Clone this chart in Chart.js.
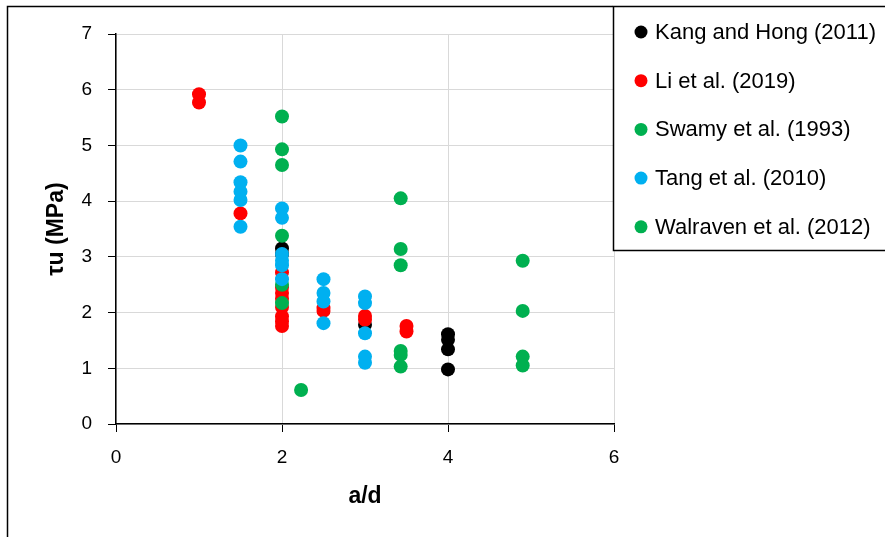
<!DOCTYPE html>
<html>
<head>
<meta charset="utf-8">
<script src="https://cdn.jsdelivr.net/npm/chart.js@4"></script>
<style>
  html, body { margin: 0; padding: 0; background: #fff; }
  #wrap { width: 885px; height: 537px; }
</style>
</head>
<body>
<div id="wrap"><canvas id="chart" width="885" height="537"></canvas></div>
<script>
// Series data (x = a/d, y = tau_u in MPa)
const seriesNames = ['Kang and Hong (2011)', 'Li et al. (2019)', 'Swamy et al. (1993)', 'Tang et al. (2010)', 'Walraven et al. (2012)'];
const seriesColors = ['#000000', '#FF0000', '#00B050', '#00B0F0', '#00B050'];

const kangX = [2, 2, 3, 4, 4, 4, 4];
const kangY = [3.15, 3.05, 1.78, 1.61, 1.51, 1.34, 0.98];

const liX = [1, 1, 1.5, 2, 2, 2, 2, 2, 2, 2, 2, 2.5, 2.5, 3, 3, 3.5, 3.5];
const liY = [5.92, 5.77, 3.78, 2.72, 2.45, 2.35, 2.25, 2.1, 1.93, 1.84, 1.76, 2.08, 2.03, 1.94, 1.87, 1.76, 1.66];

const swamyX = [2, 2, 2, 2, 2, 2, 2.23];
const swamyY = [5.52, 4.93, 4.65, 3.38, 2.5, 2.17, 0.61];

const tangX = [1.5, 1.5, 1.5, 1.5, 1.5, 1.5, 2, 2, 2, 2, 2, 2, 2.5, 2.5, 2.5, 2.5, 3, 3, 3, 3, 3];
const tangY = [5.0, 4.71, 4.34, 4.17, 4.02, 3.54, 3.87, 3.7, 3.05, 2.93, 2.85, 2.6, 2.6, 2.35, 2.2, 1.81, 2.29, 2.17, 1.63, 1.21, 1.1];

const walravenX = [3.43, 3.43, 3.43, 3.43, 3.43, 3.43, 4.9, 4.9, 4.9, 4.9];
const walravenY = [4.05, 3.14, 2.85, 1.31, 1.24, 1.03, 2.93, 2.03, 1.21, 1.05];

const xTicks = [0, 2, 4, 6];
const yTicks = [0, 1, 2, 3, 4, 5, 6, 7];

const allX = [kangX, liX, swamyX, tangX, walravenX];
const allY = [kangY, liY, swamyY, tangY, walravenY];

function toPoints(xs, ys) {
    return xs.map((x, i) => ({ x: x, y: ys[i] }));
}

// Excel draws later series on top; Chart.js draws low 'order' last
const datasets = seriesNames.map((name, i) => ({
    label: name,
    data: toPoints(allX[i], allY[i]),
    backgroundColor: seriesColors[i],
    borderColor: seriesColors[i],
    pointRadius: 7,
    pointHoverRadius: 7,
    borderWidth: 0,
    order: seriesNames.length - i
}));

const FONT = "'Liberation Sans', Arial, sans-serif";

// Draws the white background, frame, axis titles and the boxed legend
const decorPlugin = {
    id: 'decor',
    beforeDraw(chart) {
        const ctx = chart.ctx;
        ctx.save();
        ctx.fillStyle = '#fff';
        ctx.fillRect(0, 0, chart.width, chart.height);
        ctx.restore();
    },
    afterDraw(chart) {
        const ctx = chart.ctx;
        const area = chart.chartArea;
        ctx.save();

        // outer chart frame (left and top visible)
        ctx.strokeStyle = '#000';
        ctx.lineWidth = 1.5;
        ctx.beginPath();
        ctx.moveTo(7.5, chart.height + 2);
        ctx.lineTo(7.5, 6.5);
        ctx.lineTo(613, 6.5);
        ctx.stroke();

        // axis titles
        ctx.fillStyle = '#000';
        ctx.font = 'bold 23px ' + FONT;
        ctx.textAlign = 'center';
        ctx.textBaseline = 'middle';
        ctx.fillText('a/d', (area.left + area.right) / 2, 497);

        ctx.save();
        ctx.translate(57, (area.top + area.bottom) / 2);
        ctx.rotate(-Math.PI / 2);
        ctx.fillText('τu (MPa)', 0, 0);
        ctx.restore();

        // legend box
        ctx.fillStyle = '#fff';
        ctx.fillRect(613, 6, 280, 244.5);
        ctx.strokeStyle = '#000';
        ctx.lineWidth = 1.5;
        ctx.strokeRect(613.5, 6.5, 280, 244);

        ctx.font = '22px ' + FONT;
        ctx.textAlign = 'left';
        ctx.textBaseline = 'middle';
        seriesNames.forEach((name, i) => {
            const y = 32 + i * 48.7;
            ctx.fillStyle = seriesColors[i];
            ctx.beginPath();
            ctx.arc(641, y, 6.5, 0, Math.PI * 2);
            ctx.fill();
            ctx.fillStyle = '#000';
            ctx.fillText(name, 655, y + 1);
        });

        ctx.restore();
    }
};

new Chart(document.getElementById('chart'), {
    type: 'scatter',
    data: { datasets: datasets },
    options: {
        responsive: false,
        animation: false,
        events: [],
        layout: {
            padding: { left: 0, right: 885 - 614, top: 34, bottom: 0 }
        },
        plugins: {
            legend: { display: false },
            tooltip: { enabled: false }
        },
        scales: {
            x: {
                type: 'linear',
                min: 0,
                max: 6,
                afterBuildTicks: scale => { scale.ticks = xTicks.map(v => ({ value: v })); },
                afterFit: scale => { scale.height = 537 - 424; },
                ticks: {
                    color: '#000',
                    font: { family: FONT, size: 19 },
                    padding: 14
                },
                grid: {
                    color: '#D9D9D9',
                    lineWidth: 1,
                    tickColor: '#000',
                    tickLength: 8
                },
                border: { color: '#000', width: 1.5 }
            },
            y: {
                type: 'linear',
                min: 0,
                max: 7,
                afterBuildTicks: scale => { scale.ticks = yTicks.map(v => ({ value: v })); },
                afterFit: scale => { scale.width = 116; },
                ticks: {
                    color: '#000',
                    font: { family: FONT, size: 19 },
                    padding: 16
                },
                grid: {
                    color: '#D9D9D9',
                    lineWidth: 1,
                    tickColor: '#000',
                    tickLength: 8
                },
                border: { color: '#000', width: 1.5 }
            }
        }
    },
    plugins: [decorPlugin]
});
</script>
</body>
</html>
